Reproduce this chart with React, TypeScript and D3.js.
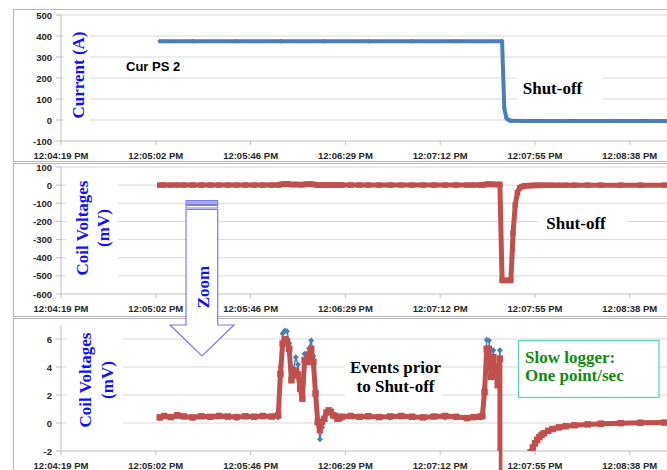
import React from "react";
import * as d3 from "d3";

type Pt = [number, number];

const W = 667;
const H = 470;

// Time axis: seconds after the first tick (12:04:19 PM), one tick every 0.0005 day
const timeTickLabels = [
  "12:04:19 PM",
  "12:05:02 PM",
  "12:05:46 PM",
  "12:06:29 PM",
  "12:07:12 PM",
  "12:07:55 PM",
  "12:08:38 PM",
];
const timeTickStep = 43.2;

const currentTicks = [-100, 0, 100, 200, 300, 400, 500];
const coilTicks = [-600, -500, -400, -300, -200, -100, 0, 100];
const zoomTicks = [-2, 0, 2, 4, 6];

// Power supply current (A)
const currentPS2: Pt[] = [
  [45, 375], [60, 375], [80, 375], [100, 375], [120, 375], [140, 375],
  [160, 375], [180, 375], [201, 375], [202, 57], [203, 8], [204, 0],
  [205, -4], [210, -5], [230, -5], [250, -5], [270, -5], [288, -5],
];

// Coil voltage, first tap (mV)
const coilA: Pt[] = [
  [45, 0.4], [47, 0.5], [50, 0.42], [53, 0.55], [56, 0.47], [60, 0.4],
  [64, 0.48], [68, 0.44], [72, 0.5], [76, 0.46], [80, 0.42], [84, 0.48],
  [88, 0.45], [92, 0.5], [96, 0.46], [99, 0.55],
  [100, 3.5], [101, 5.67], [102, 5.98], [103, 5.84], [104, 5.3], [105, 3.05],
  [106, 3.4], [107, 3.76], [108, 3.46], [109, 2.45], [110, 1.74], [111, 4.48],
  [112, 4.36], [113, 4.9], [114, 5.3], [115, 4.36], [116, 2.1], [117, 0.07],
  [118, -0.5], [119, 0.1], [120, 0.3], [121, 0.75], [122, 0.9], [123, 0.8],
  [124, 0.55], [125, 0.5], [126, 0.3], [127, 0.35], [128, 0.45],
  [132, 0.5], [136, 0.44], [140, 0.48], [145, 0.42], [150, 0.47], [155, 0.5],
  [160, 0.45], [165, 0.4], [170, 0.46], [175, 0.5], [180, 0.44], [185, 0.35],
  [188, 0.42], [191, 0.45], [192, 0.5],
  [193, 2.2], [194, 5.3], [195, 5.3], [196, 3.3], [197, 4.7], [198, 3.76],
  [199, 2.7], [200, 4.6],
  [201, -525], [202, -525], [203, -525], [204, -525], [205, -525],
  [206, -265], [207, -110], [208, -40], [209, -15], [210, -8], [211, -5],
  [212, -3.5], [213, -2.6], [214, -2.1], [215, -1.75], [216, -1.45],
  [217, -1.2], [218, -1.0], [219, -0.85], [220, -0.74], [222, -0.56],
  [224, -0.43], [227, -0.31], [230, -0.23], [234, -0.16], [240, -0.1],
  [246, -0.05], [255, -0.01], [264, 0.02], [275, 0.03], [288, 0.04],
];

// Coil voltage, second tap (mV)
const coilB: Pt[] = [
  [45, 0.35], [60, 0.35], [80, 0.36], [99, 0.4],
  [100, 4.0], [101, 6.4], [102, 6.6], [103, 6.55], [104, 5.7], [105, 3.3],
  [106, 3.9], [107, 4.7], [108, 4.17], [109, 2.9], [110, 2.74], [111, 4.95],
  [112, 4.6], [113, 5.3], [114, 5.9], [115, 4.78], [116, 2.3], [117, 0.0],
  [118, -1.16], [119, -0.3], [120, 0.3], [121, 0.7], [122, 0.85], [124, 0.5],
  [128, 0.4], [150, 0.38], [175, 0.38], [192, 0.45],
  [193, 2.5], [194, 5.95], [195, 5.9], [196, 3.6], [197, 5.2], [198, 4.1],
  [199, 3.3], [200, 5.2],
  [201, -525], [205, -525], [206, -360], [207, -148], [208, -55], [209, -18],
  [210, -8], [212, -3.5], [214, -2.1], [217, -1.2], [220, -0.74],
  [225, -0.38], [234, -0.16], [246, -0.05], [264, 0.02], [288, 0.04],
];

const BLUE = "#4a7ebb";
const RED = "#c0504d";
const GRID = "#d9d9d9";
const AXIS = "#bfbfbf";
const BORDER = "#b8b8b8";
const LABEL = "#262626";
const TITLE = "#1010ff";
const ARROW = "#7b7bea";

const sans = "'Liberation Sans', Arial, sans-serif";
const serif = "'Liberation Serif', 'Times New Roman', serif";

const x = d3.scaleLinear().domain([0, 288]).range([61, 693]);
const xTicks = timeTickLabels.map((_, i) => i * timeTickStep);

type PanelProps = {
  top: number;
  bottom: number;
  y: d3.ScaleLinear<number, number>;
  ticks: number[];
};

function Axes({ top, bottom, y, ticks }: PanelProps) {
  const [y0, y1] = y.range();
  return (
    <g>
      <rect x={13.5} y={top + 0.5} width={W + 20} height={bottom - top} fill="white" stroke={BORDER} />
      {ticks.slice(1).map((t) => (
        <line key={"g" + t} x1={61} x2={W} y1={y(t)} y2={y(t)} stroke={GRID} />
      ))}
      {ticks.map((t) => (
        <g key={"t" + t}>
          <line x1={56} x2={61} y1={y(t)} y2={y(t)} stroke={AXIS} />
          <text x={52} y={y(t) + 3.5} textAnchor="end" fontFamily={sans} fontWeight="bold" fontSize={9.5} fill={LABEL}>
            {t}
          </text>
        </g>
      ))}
      <line x1={61} x2={61} y1={y1} y2={y0} stroke={AXIS} />
      <line x1={61} x2={W} y1={y0} y2={y0} stroke={AXIS} />
      {xTicks.map((t, i) => (
        <g key={"x" + i}>
          <line x1={x(t)} x2={x(t)} y1={y0} y2={y0 + 4} stroke={AXIS} />
          <text x={x(t)} y={y0 + 17.5} textAnchor="middle" fontFamily={sans} fontWeight="bold" fontSize={9.5} fill={LABEL}>
            {timeTickLabels[i]}
          </text>
        </g>
      ))}
    </g>
  );
}

function diamond(cx: number, cy: number, r: number) {
  return `M${cx},${cy - r}L${cx + r},${cy}L${cx},${cy + r}L${cx - r},${cy}Z`;
}

function Series({ data, y, color, width, marker, size }: {
  data: Pt[];
  y: d3.ScaleLinear<number, number>;
  color: string;
  width: number;
  marker: "square" | "diamond";
  size: number;
}) {
  const line = d3.line<Pt>().x((d) => x(d[0])).y((d) => y(d[1]));
  return (
    <g>
      <path d={line(data) ?? ""} fill="none" stroke={color} strokeWidth={width} strokeLinejoin="round" />
      {data.map((d, i) =>
        marker === "square" ? (
          <rect key={i} x={x(d[0]) - size / 2} y={y(d[1]) - size / 2} width={size} height={size} fill={color} />
        ) : (
          <path key={i} d={diamond(x(d[0]), y(d[1]), size / 2)} fill={color} />
        )
      )}
    </g>
  );
}

function Label({ cx, cy, lines, box, color = "black", rotate = false, anchor = "middle", size = 17, lineGap = 19 }: {
  cx: number;
  cy: number;
  lines: string[];
  box?: [number, number, number, number];
  color?: string;
  rotate?: boolean;
  anchor?: "middle" | "start";
  size?: number;
  lineGap?: number;
}) {
  const n = lines.length;
  return (
    <g>
      {box && <rect x={box[0]} y={box[1]} width={box[2]} height={box[3]} fill="white" />}
      <g transform={`translate(${cx},${cy})${rotate ? " rotate(-90)" : ""}`}>
        {lines.map((l, i) => (
          <text
            key={i}
            x={0}
            y={(i - (n - 1) / 2) * lineGap}
            dy="0.35em"
            textAnchor={anchor}
            fontFamily={serif}
            fontWeight="bold"
            fontSize={size}
            fill={color}
          >
            {l}
          </text>
        ))}
      </g>
    </g>
  );
}

export default function App() {
  const yCur = d3.scaleLinear().domain([-100, 500]).range([141, 15]);
  const yCoil = d3.scaleLinear().domain([-600, 100]).range([294, 167]);
  const yZoom = d3.scaleLinear().domain([-2, 7]).range([451, 325]);

  return (
    <svg
      width={W}
      height={H}
      style={{ position: "absolute", left: 0, top: 0, background: "white" }}
    >
      <defs>
        <clipPath id="zoomClip">
          <rect x={61} y={318} width={W} height={451 - 318} />
          <rect x={x(199.5)} y={440} width={x(202.5) - x(199.5)} height={40} />
        </clipPath>
      </defs>

      {/* Current panel */}
      <Axes top={9} bottom={161} y={yCur} ticks={currentTicks} />
      <rect x={64} y={22} width={26} height={110} fill="white" />
      <Label cx={78} cy={75} lines={["Current (A)"]} rotate color={TITLE} />
      <text x={126} y={71} fontFamily={sans} fontWeight="bold" fontSize={13} fill="black">
        Cur PS 2
      </text>
      <Label cx={552.5} cy={88} lines={["Shut-off"]} box={[517, 72, 86, 32]} />
      <Series data={currentPS2} y={yCur} color={BLUE} width={4} marker="diamond" size={5} />

      {/* Coil voltage panel */}
      <Axes top={163} bottom={316} y={yCoil} ticks={coilTicks} />
      <rect x={66} y={172} width={52} height={118} fill="white" />
      <Label cx={92.5} cy={228} lines={["Coil Voltages", "(mV)"]} rotate color={TITLE} lineGap={21} />
      <Label cx={576} cy={223} lines={["Shut-off"]} box={[538, 208, 89, 30]} />
      <Series data={coilB} y={yCoil} color={BLUE} width={1.5} marker="diamond" size={5} />
      <Series data={coilA} y={yCoil} color={RED} width={5} marker="square" size={5.5} />

      {/* Zoomed coil voltage panel */}
      <Axes top={318} bottom={H + 20} y={yZoom} ticks={zoomTicks} />
      <rect x={67} y={330} width={56} height={98} fill="white" />
      <Label cx={96} cy={380} lines={["Coil Voltages", "(mV)"]} rotate color={TITLE} lineGap={22} />
      <Label cx={395.5} cy={377} lines={["Events prior", "to Shut-off"]} box={[345, 355, 97, 45]} />
      <g clipPath="url(#zoomClip)">
        <Series data={coilB} y={yZoom} color={BLUE} width={1.5} marker="diamond" size={6} />
        <Series data={coilA} y={yZoom} color={RED} width={5} marker="square" size={6.5} />
      </g>
      <rect x={518.5} y={340.5} width={140.5} height={57} fill="white" stroke="#5fd4b5" strokeWidth={1.3} />
      <Label cx={525} cy={366} lines={["Slow logger:", "One point/sec"]} anchor="start" color="#128a12" lineGap={18.5} />

      {/* Zoom arrow */}
      <rect x={186} y={200.5} width={31.7} height={4} fill="#a8a8f2" stroke={ARROW} strokeWidth={1} />
      <rect x={186} y={205.5} width={31.7} height={2.5} fill="white" stroke={ARROW} strokeWidth={1} />
      <path
        d="M186,209.5 L217.7,209.5 L217.7,325 L234,325 L202,356 L170,325 L186,325 Z"
        fill="white"
        stroke={ARROW}
        strokeWidth={1.2}
      />
      <Label cx={203} cy={287} lines={["Zoom"]} rotate color={TITLE} />
    </svg>
  );
}
